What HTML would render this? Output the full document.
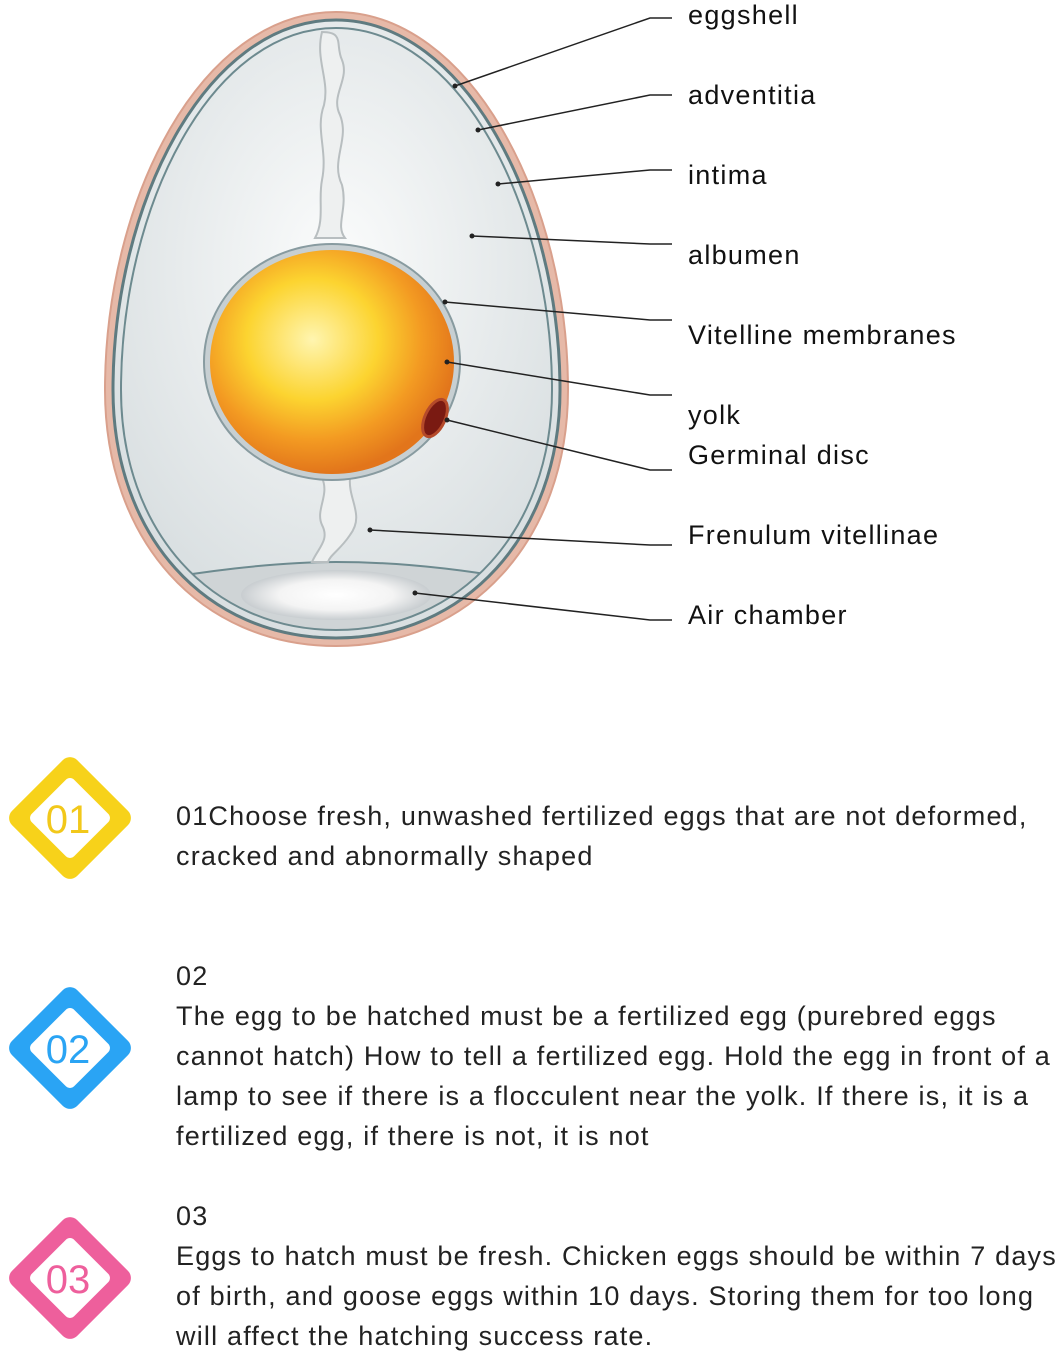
<!DOCTYPE html>
<html><head><meta charset="utf-8"><style>
body{margin:0;background:#fff;width:1064px;height:1358px;overflow:hidden;font-family:"Liberation Sans",sans-serif;color:#222}
.t{position:absolute;left:176px;font-size:27px;line-height:40px;width:888px;letter-spacing:1.2px;white-space:nowrap}
.lab{font-size:27px;fill:#111;font-family:"Liberation Sans",sans-serif;letter-spacing:1.3px}
</style></head><body>
<svg width="1064" height="1358" style="position:absolute;left:0;top:0">
<defs>
<radialGradient id="alb" cx="0.5" cy="0.4" r="0.6"><stop offset="0" stop-color="#fbfcfc"/><stop offset="1" stop-color="#d9dfe1"/></radialGradient>
<radialGradient id="yk" cx="0.42" cy="0.4" r="0.6"><stop offset="0" stop-color="#fff5b0"/><stop offset="0.45" stop-color="#fcd430"/><stop offset="0.75" stop-color="#f39a22"/><stop offset="1" stop-color="#e2751b"/></radialGradient>
<radialGradient id="air" cx="0.5" cy="0.5" r="0.5"><stop offset="0" stop-color="#fff"/><stop offset="0.6" stop-color="#f4f4f4"/><stop offset="1" stop-color="#c8cdd0"/></radialGradient>
<clipPath id="eg"><path d="M336,28 C460,28 552,208 552,390 C552,530 460,630 336,630 C210,630 121,530 121,390 C121,208 210,28 336,28Z"/></clipPath>
</defs>
<path d="M336,12 C470,12 568,200 568,390 C568,540 470,646 336,646 C200,646 105,540 105,390 C105,200 200,12 336,12Z" fill="#e6b9a8" stroke="#d9a08c" stroke-width="2"/>
<path d="M336,20 C465,20 560,205 560,390 C560,535 465,638 336,638 C205,638 113,535 113,390 C113,205 205,20 336,20Z" fill="url(#alb)" stroke="#5f7b80" stroke-width="3"/>
<g clip-path="url(#eg)">
<path d="M100,590 C200,570 280,562 336,562 C400,562 480,570 570,590 L570,660 L100,660Z" fill="#cfd4d6" stroke="#6d8a8f" stroke-width="2"/>
<ellipse cx="336" cy="595" rx="95" ry="25" fill="url(#air)"/>
</g>
<path d="M336,28 C460,28 552,208 552,390 C552,530 460,630 336,630 C210,630 121,530 121,390 C121,208 210,28 336,28Z" fill="none" stroke="#6d8a8f" stroke-width="2"/>
<path d="M322,32 C345,32 335,45 342,60 C350,80 330,95 340,115 C350,140 330,160 342,185 C348,210 335,225 345,238 L315,238 C325,220 318,200 322,180 C328,150 315,130 324,105 C330,80 315,60 322,32Z" fill="#eef0f0" stroke="#b8bec0" stroke-width="2"/>
<path d="M322,478 L350,478 C348,500 365,515 350,535 C340,550 330,555 328,562 L312,562 C318,548 330,540 322,525 C315,510 330,495 322,478Z" fill="#eef0f0" stroke="#b8bec0" stroke-width="2"/>
<ellipse cx="332" cy="362" rx="128" ry="118" fill="#c7cfd2" stroke="#889ba0" stroke-width="2"/>
<ellipse cx="332" cy="362" rx="122" ry="112" fill="url(#yk)"/>
<ellipse cx="435" cy="418" rx="10" ry="20" transform="rotate(25 435 418)" fill="#7a1a12" stroke="#b54a2a" stroke-width="3"/>
<g stroke="#222" stroke-width="1.5" fill="none">
<polyline points="455,86 650,18 672,18"/>
<polyline points="478,130 650,95 672,95"/>
<polyline points="498,184 650,170 672,170"/>
<polyline points="472,236 650,244 672,244"/>
<polyline points="445,302 650,320 672,320"/>
<polyline points="447,362 650,395 672,395"/>
<polyline points="447,420 650,470 672,470"/>
<polyline points="370,530 650,545 672,545"/>
<polyline points="415,593 650,620 672,620"/>
</g>
<g fill="#222"><circle cx="455" cy="86" r="2.5"/><circle cx="478" cy="130" r="2.5"/><circle cx="498" cy="184" r="2.5"/><circle cx="472" cy="236" r="2.5"/><circle cx="445" cy="302" r="2.5"/><circle cx="447" cy="362" r="2.5"/><circle cx="447" cy="420" r="2.5"/><circle cx="370" cy="530" r="2.5"/><circle cx="415" cy="593" r="2.5"/></g>
<text class="lab" x="688" y="24">eggshell</text>
<text class="lab" x="688" y="104">adventitia</text>
<text class="lab" x="688" y="184">intima</text>
<text class="lab" x="688" y="264">albumen</text>
<text class="lab" x="688" y="344">Vitelline membranes</text>
<text class="lab" x="688" y="424">yolk</text>
<text class="lab" x="688" y="464">Germinal disc</text>
<text class="lab" x="688" y="544">Frenulum vitellinae</text>
<text class="lab" x="688" y="624">Air chamber</text>
<g font-family="Liberation Sans,sans-serif" font-size="40" text-anchor="middle">
<rect x="24" y="772" width="92" height="92" rx="10" transform="rotate(45 70 818)" fill="#f7d21a"/>
<rect x="40" y="788" width="60" height="60" rx="6" transform="rotate(45 70 818)" fill="#fff"/>
<text x="68" y="833" fill="#f2c81a">01</text>
<rect x="24" y="1002" width="92" height="92" rx="10" transform="rotate(45 70 1048)" fill="#2aa4f4"/>
<rect x="40" y="1018" width="60" height="60" rx="6" transform="rotate(45 70 1048)" fill="#fff"/>
<text x="68" y="1063" fill="#2aa4f4">02</text>
<rect x="24" y="1232" width="92" height="92" rx="10" transform="rotate(45 70 1278)" fill="#ee5f9c"/>
<rect x="40" y="1248" width="60" height="60" rx="6" transform="rotate(45 70 1278)" fill="#fff"/>
<text x="68" y="1293" fill="#ee5f9c">03</text>
</g>
</svg>
<div class="t" style="top:796px">01Choose fresh, unwashed fertilized eggs that are not deformed,<br>cracked and abnormally shaped</div>
<div class="t" style="top:956px">02<br>The egg to be hatched must be a fertilized egg (purebred eggs<br>cannot hatch) How to tell a fertilized egg. Hold the egg in front of a<br>lamp to see if there is a flocculent near the yolk. If there is, it is a<br>fertilized egg, if there is not, it is not</div>
<div class="t" style="top:1196px">03<br>Eggs to hatch must be fresh. Chicken eggs should be within 7 days<br>of birth, and goose eggs within 10 days. Storing them for too long<br>will affect the hatching success rate.</div>
</body></html>
